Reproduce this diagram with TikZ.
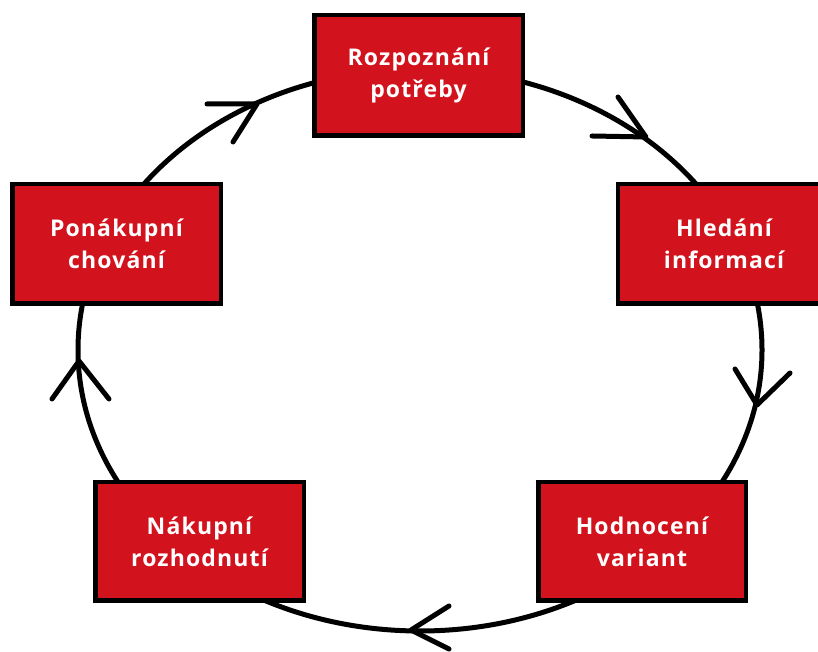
\documentclass[tikz,border=0pt]{standalone}
\usepackage{fontspec}
\setmainfont{Open Sans}
\newfontfamily\stagefont{Open Sans}[LetterSpace=5]
\definecolor{boxred}{RGB}{210,18,28}
\begin{document}
\begin{tikzpicture}[x=1pt,y=1pt,
  stage/.style={rectangle, draw=black, fill=boxred, line width=4.5pt,
    inner sep=0pt, align=center, text=white,
    font=\stagefont\fontsize{23}{32}\selectfont\bfseries},
  cycleline/.style={line width=5pt, draw=black},
  vhead/.style={line width=5pt, draw=black, line cap=round, line join=round}]
\useasboundingbox (0,0) rectangle (818,652);
\fill[white] (0,0) rectangle (818,652);
% cycle
\coordinate (c) at (420,302);
\draw[cycleline] (c) ellipse [x radius=342pt, y radius=281pt];
% stages
\node[stage, minimum width=208.5pt, minimum height=120.5pt] (rozp) at (418.5,576.5) {Rozpoznání\\potřeby};
\node[stage, minimum width=212pt, minimum height=119.5pt] (hled) at (724,408) {Hledání\\informací};
\node[stage, minimum width=207.5pt, minimum height=118.5pt] (hodn) at (642,110.5) {Hodnocení\\variant};
\node[stage, minimum width=208.5pt, minimum height=118.5pt] (naku) at (199.5,110.5) {Nákupní\\rozhodnutí};
\node[stage, minimum width=208.5pt, minimum height=119.5pt] (pona) at (116.5,408) {Ponákupní\\chování};
% arrowheads
\coordinate (t1) at (257,548); \coordinate (t1a) at (207,548); \coordinate (t1b) at (233,510);
\coordinate (t2) at (646,515); \coordinate (t2a) at (592,516); \coordinate (t2b) at (618,555);
\coordinate (t3) at (757,247); \coordinate (t3a) at (735,283); \coordinate (t3b) at (790,279);
\coordinate (t4) at (411,22);  \coordinate (t4a) at (449,46);  \coordinate (t4b) at (449,3);
\coordinate (t5) at (79,291);  \coordinate (t5a) at (52,253);  \coordinate (t5b) at (109,253);
\draw[vhead] (t1a) -- (t1) -- (t1b);
\draw[vhead] (t2a) -- (t2) -- (t2b);
\draw[vhead] (t3a) -- (t3) -- (t3b);
\draw[vhead] (t4a) -- (t4) -- (t4b);
\draw[vhead] (t5a) -- (t5) -- (t5b);
\end{tikzpicture}
\end{document}
